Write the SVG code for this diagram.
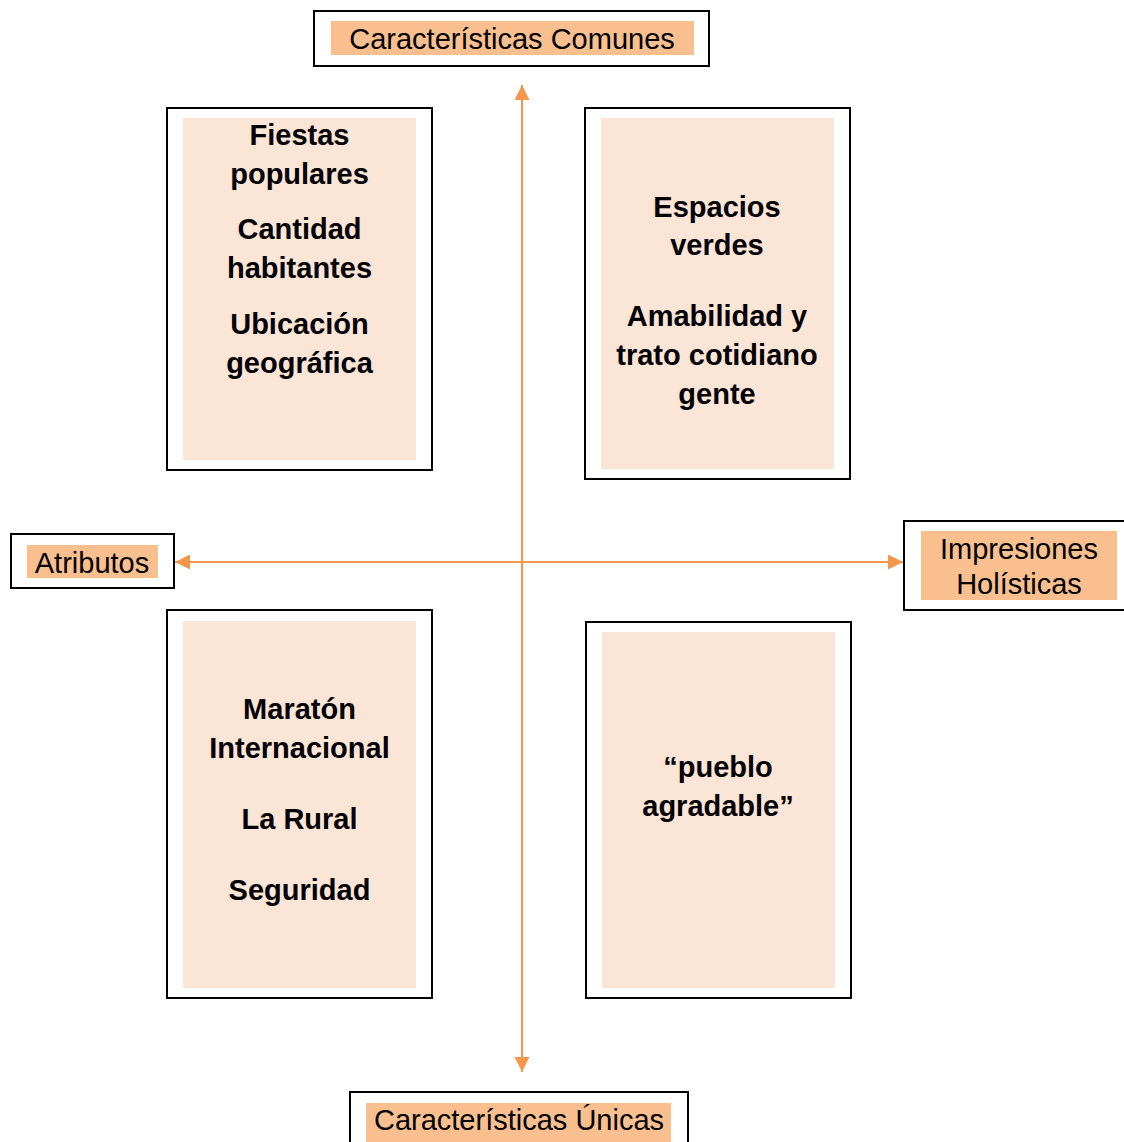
<svg xmlns="http://www.w3.org/2000/svg" width="1124" height="1142" viewBox="0 0 1124 1142">
  <style>
    .frame { fill: #ffffff; stroke: #000000; stroke-width: 2; }
    .hl { fill: #F9BF8F; }
    .pale { fill: #FBE5D6; }
    .lbl { font-family: "Liberation Sans", Arial, sans-serif; font-size: 29px; fill: #000000; text-anchor: middle; }
    .body { font-family: "Liberation Sans", Arial, sans-serif; font-size: 29px; font-weight: bold; fill: #000000; text-anchor: middle; }
    .axis { stroke: #F4974A; stroke-width: 2; fill: none; }
  </style>
  <defs>
    <marker id="ah" viewBox="0 0 10 10" refX="10" refY="5" markerWidth="15" markerHeight="15" markerUnits="userSpaceOnUse" orient="auto-start-reverse">
      <path d="M0,0 L10,5 L0,10 Z" fill="#F4974A"/>
    </marker>
  </defs>
  <rect width="1124" height="1142" fill="#ffffff"/>

  <g id="connectors">
    <line class="axis" x1="522" y1="85" x2="522" y2="1072" marker-start="url(#ah)" marker-end="url(#ah)"/>
    <line class="axis" x1="175" y1="562" x2="903" y2="562" marker-start="url(#ah)" marker-end="url(#ah)"/>
  </g>

  <g id="comunes">
    <rect class="frame" x="314" y="11" width="395" height="55"/>
    <rect class="hl" x="331" y="21" width="363" height="34"/>
    <text class="lbl" x="512" y="48.5">Características Comunes</text>
  </g>

  <g id="atributos">
    <rect class="frame" x="11" y="534" width="163" height="54"/>
    <rect class="hl" x="27" y="545" width="131" height="33"/>
    <text class="lbl" x="92" y="572.5">Atributos</text>
  </g>

  <g id="impresiones">
    <rect class="frame" x="904" y="521" width="230" height="89"/>
    <rect class="hl" x="921" y="531" width="196" height="69"/>
    <text class="lbl" x="1019" y="559">Impresiones</text>
    <text class="lbl" x="1019" y="594">Holísticas</text>
  </g>

  <g id="unicas">
    <rect class="frame" x="350" y="1092" width="338" height="60"/>
    <rect class="hl" x="366" y="1103" width="305" height="39"/>
    <text class="lbl" x="519" y="1130">Características Únicas</text>
  </g>

  <g id="q-top-left">
    <rect class="frame" x="167" y="108" width="265" height="362"/>
    <rect class="pale" x="183" y="118" width="233" height="342"/>
    <text class="body" x="299.5" y="145">Fiestas</text>
    <text class="body" x="299.5" y="184">populares</text>
    <text class="body" x="299.5" y="239">Cantidad</text>
    <text class="body" x="299.5" y="278">habitantes</text>
    <text class="body" x="299.5" y="334">Ubicación</text>
    <text class="body" x="299.5" y="373">geográfica</text>
  </g>

  <g id="q-top-right">
    <rect class="frame" x="585" y="108" width="265" height="371"/>
    <rect class="pale" x="601" y="118" width="233" height="351"/>
    <text class="body" x="717" y="217">Espacios</text>
    <text class="body" x="717" y="255">verdes</text>
    <text class="body" x="717" y="326">Amabilidad y</text>
    <text class="body" x="717" y="365">trato cotidiano</text>
    <text class="body" x="717" y="404">gente</text>
  </g>

  <g id="q-bottom-left">
    <rect class="frame" x="167" y="610" width="265" height="388"/>
    <rect class="pale" x="183" y="621" width="233" height="367"/>
    <text class="body" x="299.5" y="719">Maratón</text>
    <text class="body" x="299.5" y="758">Internacional</text>
    <text class="body" x="299.5" y="829">La Rural</text>
    <text class="body" x="299.5" y="900">Seguridad</text>
  </g>

  <g id="q-bottom-right">
    <rect class="frame" x="586" y="622" width="265" height="376"/>
    <rect class="pale" x="602" y="632" width="233" height="356"/>
    <text class="body" x="718" y="777">“pueblo</text>
    <text class="body" x="718" y="816">agradable”</text>
  </g>
</svg>
